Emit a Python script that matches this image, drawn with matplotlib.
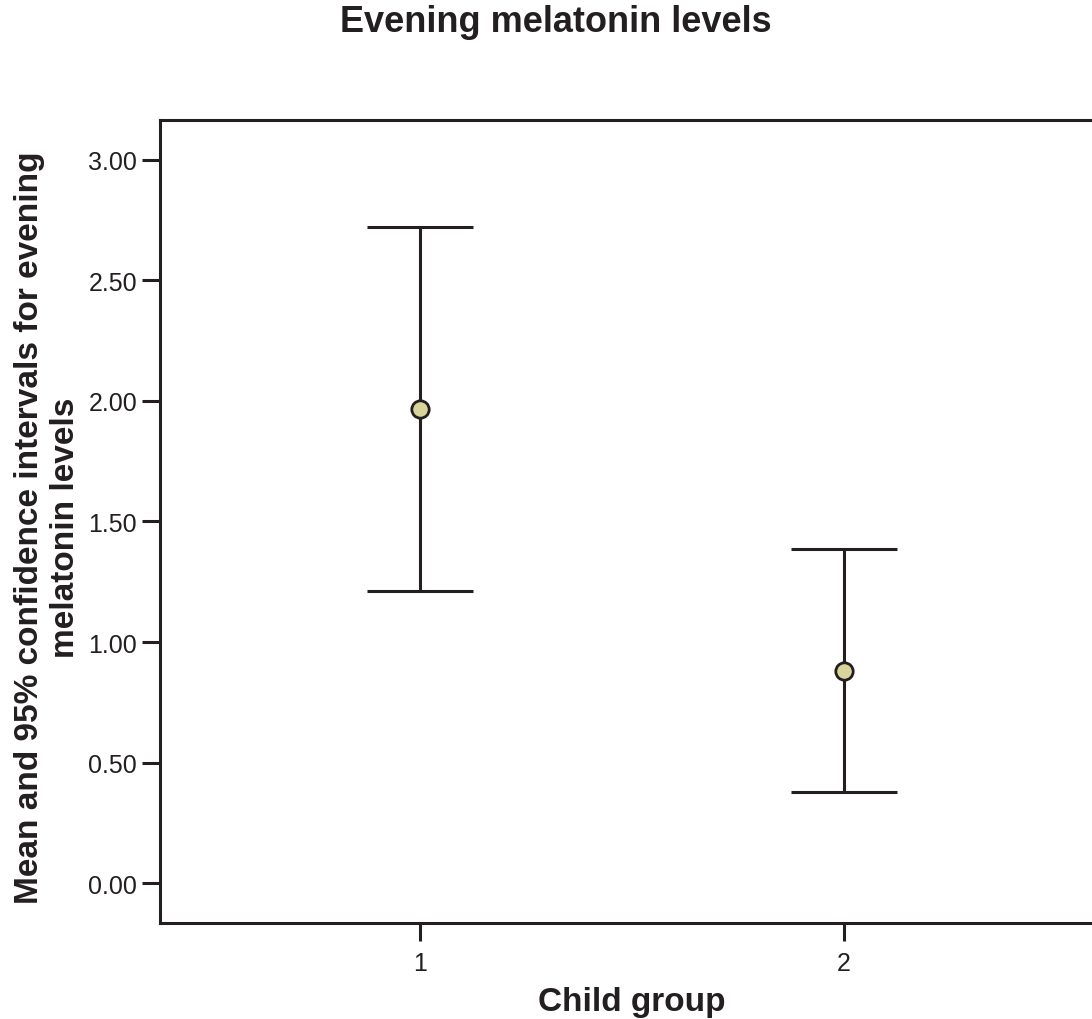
"""
Evening melatonin levels: mean and 95% CI per child group
"""

import matplotlib
matplotlib.use('Agg')
import matplotlib.pyplot as plt

# 数据
groups = [1, 2]
means = [1.967, 0.880]
ci_low = [1.212, 0.378]
ci_high = [2.722, 1.386]
y_ticks = [0.0, 0.5, 1.0, 1.5, 2.0, 2.5, 3.0]

INK = '#231f20'
FACE = '#d8d49a'

plt.rcParams['font.family'] = ['Liberation Sans', 'DejaVu Sans']

fig = plt.figure(figsize=(10.92, 10.2), dpi=100)
ax = fig.add_axes([0.1465, 0.0941, 0.8645, 0.7873])

# 误差线 + 端帽
cap = 0.125
for g, lo, hi in zip(groups, ci_low, ci_high):
    ax.vlines(g, lo, hi, color=INK, lw=2.2, zorder=2)
    ax.hlines([lo, hi], g - cap, g + cap, color=INK, lw=2.2, zorder=2)

ax.plot(groups, means, 'o', ms=12.5, mfc=FACE, mec=INK, mew=2.0,
        linestyle='none', zorder=3)

ax.set_xlim(0.387, 2.613)
ax.set_ylim(-0.166, 3.166)
ax.set_xticks(groups)
ax.set_xticklabels([str(g) for g in groups])
ax.set_yticks(y_ticks)
ax.set_yticklabels([f'{v:.2f}' for v in y_ticks])

for s in ax.spines.values():
    s.set_linewidth(2.2)
    s.set_color(INK)
ax.tick_params(axis='both', length=13, width=2.2, color=INK,
               labelsize=18, labelcolor=INK)
ax.tick_params(axis='x', pad=7)
ax.tick_params(axis='y', pad=3.5)

ax.set_xlabel('Child group', fontsize=24, fontweight='bold', color=INK)
ax.xaxis.label.set_va('baseline')
ax.xaxis.set_label_coords(0.5, -0.108)

ax.set_ylabel('Mean and 95% confidence intervals for evening\nmelatonin levels',
              fontsize=24, fontweight='bold', color=INK, linespacing=1.2)
ax.yaxis.set_label_coords(-0.084, 0.493)

fig.text(0.509, 0.9686, 'Evening melatonin levels', ha='center', va='baseline',
         fontsize=26, fontweight='bold', color=INK)

fig.savefig('out.png', dpi=100)
plt.close(fig)
